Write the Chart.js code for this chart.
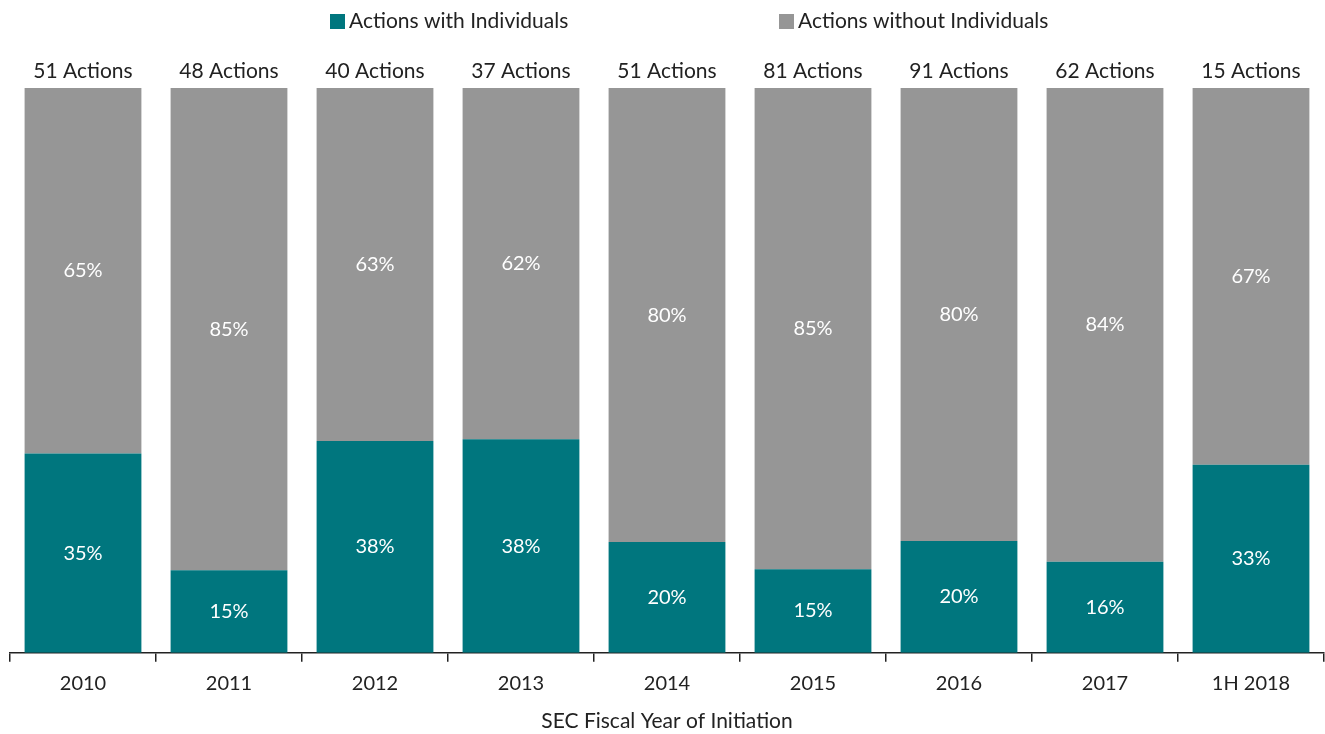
<!DOCTYPE html>
<html>
<head>
<meta charset="utf-8">
<script src="https://cdn.jsdelivr.net/npm/chart.js@4"></script>
<style>
html,body{margin:0;padding:0;background:#fff;}
#wrap{width:1325px;height:734px;position:relative;}
</style>
</head>
<body>
<div id="wrap"><canvas id="c" width="1325" height="734"></canvas></div>
<script>
const categories = ["2010","2011","2012","2013","2014","2015","2016","2017","1H 2018"];
const actionCounts = [51,48,40,37,51,81,91,62,15];
const withIndividuals = [35.3,14.6,37.5,37.8,19.6,14.8,19.8,16.1,33.3];
const withoutIndividuals = [64.7,85.4,62.5,62.2,80.4,85.2,80.2,83.9,66.7];
const seriesNames = ["Actions with Individuals","Actions without Individuals"];
const seriesColors = ["#00767E","#969696"];

const FONT = "Lato, 'Open Sans', sans-serif";

const labelPlugin = {
  id: 'labelPlugin',
  afterDatasetsDraw(chart) {
    const ctx = chart.ctx;
    ctx.save();
    ctx.font = "20px " + FONT;
    ctx.textAlign = "center";
    ctx.textBaseline = "middle";
    ctx.fillStyle = "#ffffff";
    chart.data.datasets.forEach((ds, di) => {
      const meta = chart.getDatasetMeta(di);
      meta.data.forEach((bar, i) => {
        const mid = (bar.y + bar.base) / 2;
        ctx.fillText(Math.round(ds.data[i]) + "%", bar.x, mid);
      });
    });
    const topMeta = chart.getDatasetMeta(1);
    ctx.font = "21px " + FONT;
    ctx.fillStyle = "#222222";
    ctx.textBaseline = "middle";
    topMeta.data.forEach((bar, i) => {
      ctx.fillText(actionCounts[i] + " Actions", bar.x, bar.y - 17);
    });
    // legend
    const legendX = [330, 779];
    ctx.textAlign = "left";
    chart.data.datasets.forEach((ds, di) => {
      const x = legendX[di];
      ctx.fillStyle = ds.backgroundColor;
      ctx.fillRect(x, 14, 15, 15);
      ctx.fillStyle = "#222222";
      ctx.fillText(ds.label, x + 19, 21);
    });
    ctx.restore();
  }
};

new Chart(document.getElementById('c'), {
  type: 'bar',
  data: {
    labels: categories,
    datasets: [
      { label: seriesNames[0], data: withIndividuals, backgroundColor: seriesColors[0], borderWidth: 0, categoryPercentage: 0.8, barPercentage: 1.0 },
      { label: seriesNames[1], data: withoutIndividuals, backgroundColor: seriesColors[1], borderWidth: 0, categoryPercentage: 0.8, barPercentage: 1.0 }
    ]
  },
  options: {
    responsive: false,
    animation: false,
    devicePixelRatio: 1,
    layout: { padding: { left: 10, right: 1, top: 88, bottom: 0 } },
    plugins: {
      legend: { display: false },
      tooltip: { enabled: false }
    },
    scales: {
      x: {
        stacked: true,
        grid: { display: true, offset: true, drawOnChartArea: false, drawTicks: true, tickLength: 9, color: "#222222", lineWidth: 1.5 },
        border: { display: true, color: "#222222", width: 1.5 },
        ticks: { font: { family: FONT, size: 20 }, color: "#222222", padding: 10 },
        title: { display: true, text: "SEC Fiscal Year of Initiation", font: { family: FONT, size: 21 }, color: "#222222", padding: { top: 3, bottom: 0 } }
      },
      y: {
        stacked: true,
        min: 0,
        max: 100,
        display: false
      }
    }
  },
  plugins: [labelPlugin]
});
</script>
</body>
</html>
